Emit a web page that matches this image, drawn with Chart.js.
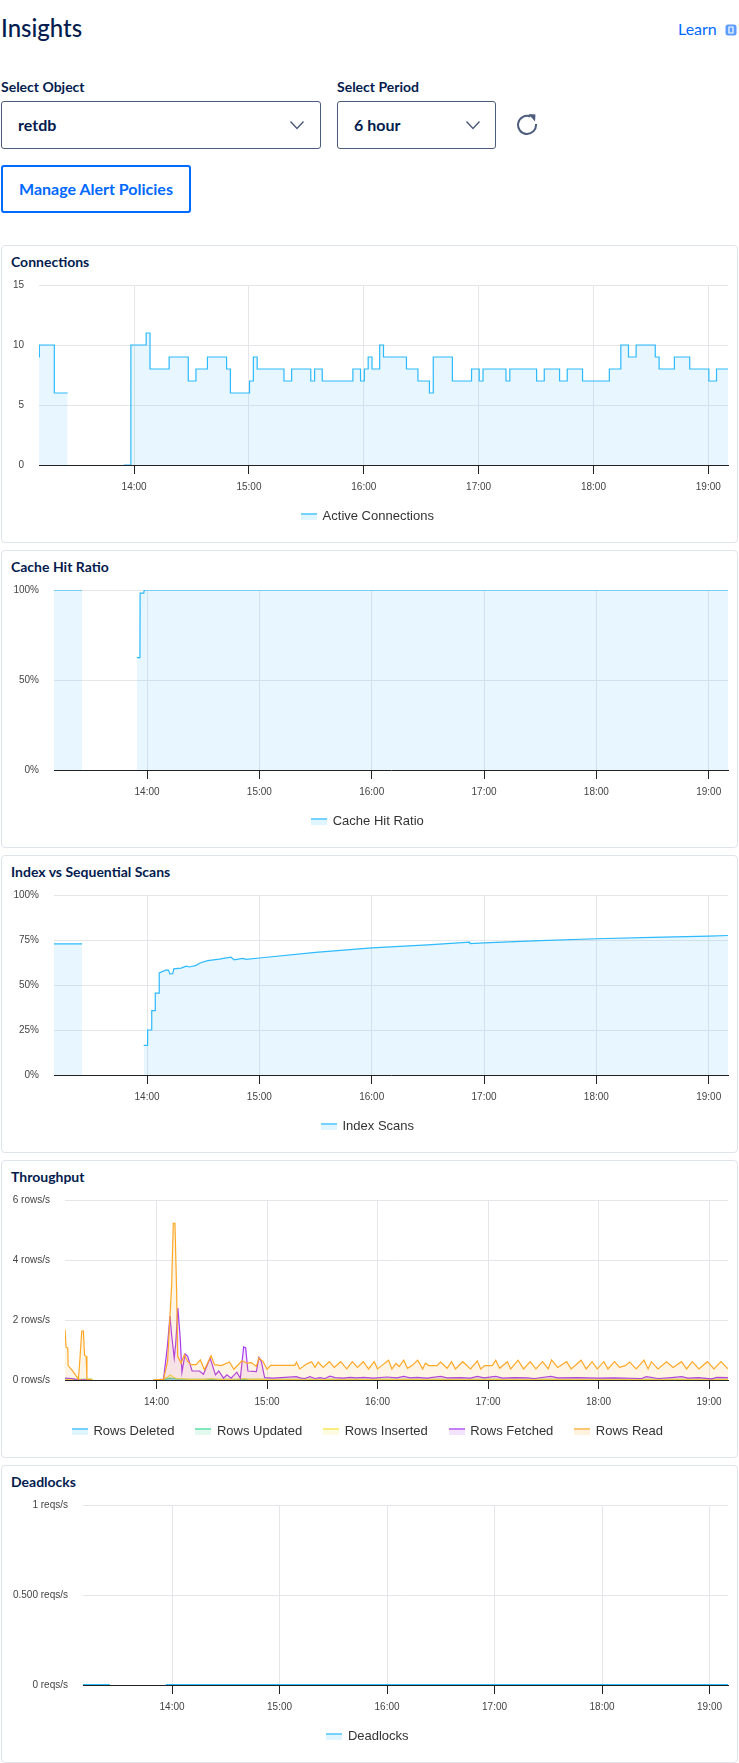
<!DOCTYPE html>
<html>
<head>
<meta charset="utf-8">
<title>Insights</title>
<script src="https://cdn.jsdelivr.net/npm/chart.js@4"></script>
<style>
  html, body { margin: 0; padding: 0; width: 739px; height: 1763px; overflow: hidden; background: #fff; }
  body { position: relative; font-family: Lato, "Open Sans", sans-serif; color: #031b4e; }
  .abs { position: absolute; white-space: nowrap; }
  .pageTitle { left: 1px; top: 12px; font-size: 24px; line-height: 32px; font-weight: 500; }
  .learn { left: 678px; top: 19px; font-size: 16px; line-height: 20px; color: #0069ff; }
  .label { top: 78px; font-size: 14px; line-height: 18px; font-weight: 700; }
  .select { top: 101px; height: 46px; border: 1px solid #4d5b7c; border-radius: 3px; }
  .selectText { top: 114px; font-size: 16px; line-height: 22px; font-weight: 700; }
  .button { left: 1px; top: 165px; width: 186px; height: 44px; border: 2px solid #0069ff; border-radius: 3px; }
  .buttonText { left: 19px; top: 178px; font-size: 16px; line-height: 22px; font-weight: 700; color: #0069ff; }
  .card { position: absolute; left: 1px; width: 735px; height: 296px; border: 1px solid #dfe3ec; border-radius: 4px; }
  .cardTitle { left: 11px; font-size: 14px; line-height: 18px; font-weight: 700; }
  canvas { position: absolute; left: 0; }
</style>
</head>
<body>
<div class="abs pageTitle">Insights</div>
<div class="abs learn">Learn</div>
<svg class="abs" style="left:725px;top:24px" width="12" height="12" viewBox="0 0 12 12">
  <rect x="0.5" y="0.5" width="11" height="11" rx="2.5" fill="#5c9dff"/>
  <path d="M4 3h4v6H4z" fill="none" stroke="#fff" stroke-width="1.2"/>
</svg>

<div class="abs label" style="left:1px">Select Object</div>
<div class="abs label" style="left:337px">Select Period</div>
<div class="abs select" style="left:1px;width:318px"></div>
<div class="abs select" style="left:337px;width:157px"></div>
<div class="abs selectText" style="left:18px">retdb</div>
<div class="abs selectText" style="left:354px">6 hour</div>
<svg class="abs" style="left:289px;top:120px" width="16" height="10" viewBox="0 0 16 10">
  <path d="M1.5 1.5L8 8.5l6.5-7" fill="none" stroke="#4d5b7c" stroke-width="1.4"/>
</svg>
<svg class="abs" style="left:465px;top:120px" width="16" height="10" viewBox="0 0 16 10">
  <path d="M1.5 1.5L8 8.5l6.5-7" fill="none" stroke="#4d5b7c" stroke-width="1.4"/>
</svg>
<svg class="abs" style="left:516px;top:113px" width="22" height="22" viewBox="0 0 22 22">
  <path d="M14.5 3.6A9 9 0 1 0 20 11" fill="none" stroke="#4d5b7c" stroke-width="2"/>
  <path d="M12.5 1l7 .5-.5 7z" fill="#4d5b7c"/>
</svg>

<div class="abs button"></div>
<div class="abs buttonText">Manage Alert Policies</div>

<div class="card" style="top:245px"></div>
<div class="card" style="top:550px"></div>
<div class="card" style="top:855px"></div>
<div class="card" style="top:1160px"></div>
<div class="card" style="top:1465px"></div>
<div class="abs cardTitle" style="top:253px">Connections</div>
<div class="abs cardTitle" style="top:558px">Cache Hit Ratio</div>
<div class="abs cardTitle" style="top:863px">Index vs Sequential Scans</div>
<div class="abs cardTitle" style="top:1168px">Throughput</div>
<div class="abs cardTitle" style="top:1473px">Deadlocks</div>

<canvas id="connChart" width="739" height="298" style="top:245px"></canvas>
<canvas id="cacheChart" width="739" height="298" style="top:550px"></canvas>
<canvas id="scanChart" width="739" height="298" style="top:855px"></canvas>
<canvas id="rowsChart" width="739" height="298" style="top:1160px"></canvas>
<canvas id="lockChart" width="739" height="298" style="top:1465px"></canvas>

<script>
// all times are minutes since midnight
const timeMin = 790.3;
const timeMax = 1150.3;
const hourTicks = [840, 900, 960, 1020, 1080, 1140];
const hourLabels = ["14:00", "15:00", "16:00", "17:00", "18:00", "19:00"];

const connTicks = [0, 5, 10, 15];
const connTickLabels = ["0", "5", "10", "15"];
const connTimes = [790.3, 790.5, 798.3, 805.3, 805.4, 834.6, 838.3, 846.3, 848.3, 858.3, 868.3, 872.3, 878.3, 888.3, 890.3, 900.3, 902.3, 904.3, 918.3, 922.3, 932.3, 934.3, 938.3, 954.3, 958.3, 960.3, 962.3, 964.3, 968.3, 970.3, 982.3, 988.3, 994.3, 996.3, 1006.3, 1016.3, 1020.3, 1022.3, 1034.3, 1036.3, 1050.3, 1054.3, 1062.3, 1066.3, 1074.3, 1088.3, 1094.3, 1098.3, 1102.3, 1112.3, 1114.3, 1122.3, 1130.3, 1140.3, 1144.3, 1150.3];
const connValues = [9, 10, 6, 6, null, 0, 10, 11, 8, 9, 7, 8, 9, 8, 6, 7, 9, 8, 7, 8, 7, 8, 7, 8, 7, 8, 9, 8, 10, 9, 8, 7, 6, 9, 7, 8, 7, 8, 7, 8, 7, 8, 7, 8, 7, 8, 10, 9, 10, 9, 8, 9, 8, 7, 8, 8];

const cacheTicks = [0, 50, 100];
const cacheTickLabels = ["0%", "50%", "100%"];
const cacheTimes = [790.3, 805.3, 805.4, 834.6, 836.2, 836.3, 838.2, 838.3, 838.8, 1150.3];
const cacheValues = [100, 100, null, 62.4, 62.4, 98.3, 98.3, 99.2, 100, 100];

const scanTicks = [0, 25, 50, 75, 100];
const scanTickLabels = ["0%", "25%", "50%", "75%", "100%"];
const scanTimes = [790.3, 805.3, 805.4, 838.2, 840.2, 840.3, 842.4, 842.5, 844.3, 844.4, 846.4, 846.5, 850.3, 851.5, 852.2, 853.7, 854.3, 858.2, 860.9, 862.7, 866.2, 868.3, 872.4, 878.6, 884.8, 886.5, 891, 893, 900, 930, 960, 990, 1012.3, 1012.5, 1020, 1050, 1080, 1110, 1140, 1150.3];
const scanValues = [72.8, 72.8, null, 16.5, 16.5, 25, 25, 35.8, 35.8, 45.5, 45.5, 56.7, 58.4, 58.2, 56.2, 56.3, 59, 59.4, 60.5, 60, 60.9, 62.2, 63.5, 64.4, 65.5, 64, 64.8, 64.2, 65, 68.1, 70.6, 72.3, 73.8, 73, 73.4, 74.7, 75.7, 76.5, 77.2, 77.5];

const rowsTicks = [0, 2, 4, 6];
const rowsTickLabels = ["0 rows/s", "2 rows/s", "4 rows/s", "6 rows/s"];
const deletedTimes = [790.3, 805.3, 805.4, 838.5, 1150.3];
const deletedValues = [0, 0, null, 0, 0];
const updatedTimes = [790.3, 805.3, 805.4, 838.5, 843, 847, 849, 852, 860, 1150.3];
const updatedValues = [0.02, 0.02, null, 0, 0, 0.06, 0.05, 0.03, 0.02, 0.02];
const insertedTimes = [790.3, 805.3, 805.4, 838.5, 843, 846, 847.5, 849, 851, 855, 858, 862, 866, 870, 873, 880, 884, 888, 890, 896, 900, 1150.3];
const insertedValues = [0.02, 0.02, null, 0, 0.01, 0.1, 0.17, 0.1, 0.05, 0.04, 0.02, 0.02, 0.02, 0.05, 0.02, 0.02, 0.03, 0.05, 0.02, 0.03, 0.02, 0.02];
const fetchedTimes = [790.3, 794, 797.6, 804.5, 805.4, 838.5, 843.8, 846, 847.3, 848.2, 849.6, 850.4, 851.6, 852.9, 853.8, 855.5, 856.9, 859.3, 863.3, 865.5, 869.1, 872, 873.8, 876.4, 878.2, 880.5, 883.6, 885.5, 887.3, 888.4, 889.6, 894.2, 895.6, 896.9, 898.7, 903.3, 916, 917.8, 920.5, 923.3, 926, 928.7, 931.4, 934.2, 936.9, 941.4, 945.1, 948.7, 952.3, 957.8, 965.1, 970.5, 974.2, 977.8, 981.4, 986.9, 994.2, 997.8, 1005.1, 1010.5, 1014.2, 1017.8, 1024.2, 1027.8, 1034.2, 1041.4, 1045.1, 1054.2, 1057.8, 1068.7, 1079.6, 1088.7, 1103.3, 1106, 1112.3, 1119.6, 1125.1, 1128.7, 1134.2, 1141.4, 1144.2, 1150.3];
const fetchedValues = [0.06, 0.05, 0, 0.01, null, 0, 0.03, 1.18, 2.13, 1.5, 0.73, 1.2, 2.4, 1.35, 0.26, 0.87, 0.79, 0.3, 0.3, 0.19, 0.73, 0.17, 0.3, 0.06, 0.17, 0.06, 0.26, 0.06, 1.1, 1.07, 0.3, 0.28, 0.75, 0.62, 0.08, 0.06, 0.11, 0.07, 0.05, 0.11, 0.05, 0.08, 0.05, 0.13, 0.08, 0.06, 0.09, 0.07, 0.09, 0.06, 0.1, 0.07, 0.12, 0.07, 0.09, 0.06, 0.12, 0.07, 0.08, 0.06, 0.12, 0.07, 0.12, 0.06, 0.08, 0.07, 0.05, 0.12, 0.07, 0.08, 0.06, 0.07, 0.05, 0.11, 0.05, 0.08, 0.11, 0.06, 0.08, 0.04, 0.09, 0.08];
const readTimes = [790.3, 790.9, 791.8, 792, 794, 797.6, 798.5, 799.4, 800.3, 800.9, 801.8, 802.2, 804.5, 805.4, 838.5, 843.8, 846, 848.2, 849.1, 850, 850.9, 851.5, 853.3, 855.1, 856.9, 858.7, 861.5, 863.8, 866, 869.6, 871.5, 875.1, 879.6, 882, 886.4, 889.1, 891.5, 894.2, 895.6, 897.8, 900, 902, 915.1, 916, 917.8, 921.4, 924.2, 926, 927.8, 930.5, 933.8, 936.5, 940, 943.3, 946.3, 949.1, 952.3, 955.1, 958.2, 960, 962.3, 966, 967.8, 970, 971.8, 974.2, 976.3, 978.7, 981.8, 984.5, 986, 987.8, 992.3, 994.2, 997.8, 1000.2, 1002.3, 1006.3, 1010.5, 1014.2, 1016, 1018.2, 1022.3, 1024.2, 1026.3, 1030.5, 1032.3, 1036.3, 1039.3, 1042.9, 1046, 1049.6, 1052.7, 1054.5, 1057.8, 1062.7, 1065.1, 1067.8, 1070.5, 1073.3, 1076.5, 1079.3, 1082.9, 1085.1, 1088.7, 1091.4, 1094.5, 1096.9, 1100.5, 1104.7, 1106.9, 1108.7, 1112.3, 1116.9, 1120.5, 1125.1, 1127.8, 1130.9, 1134.5, 1139.1, 1142.7, 1146.5, 1150.3];
const readValues = [1.69, 1.09, 1.07, 0.48, 0.34, 0.03, 0.79, 1.63, 1.63, 0.82, 0.79, 0.03, 0.02, null, 0.01, 0.02, 0.62, 3.15, 5.22, 5.22, 2.98, 0.79, 0.56, 0.84, 0.62, 0.51, 0.51, 0.67, 0.34, 0.81, 0.51, 0.48, 0.6, 0.36, 0.64, 0.56, 0.58, 0.45, 0.73, 0.62, 0.36, 0.49, 0.49, 0.6, 0.37, 0.53, 0.61, 0.42, 0.6, 0.42, 0.61, 0.42, 0.61, 0.37, 0.61, 0.42, 0.61, 0.37, 0.61, 0.37, 0.48, 0.66, 0.37, 0.55, 0.45, 0.66, 0.39, 0.48, 0.66, 0.37, 0.56, 0.48, 0.48, 0.6, 0.39, 0.61, 0.37, 0.61, 0.37, 0.64, 0.37, 0.48, 0.48, 0.66, 0.39, 0.61, 0.37, 0.66, 0.37, 0.61, 0.37, 0.61, 0.37, 0.67, 0.42, 0.61, 0.37, 0.51, 0.66, 0.37, 0.61, 0.37, 0.61, 0.37, 0.61, 0.42, 0.48, 0.6, 0.37, 0.66, 0.37, 0.61, 0.37, 0.61, 0.42, 0.61, 0.37, 0.61, 0.37, 0.61, 0.37, 0.61, 0.37];

const lockTicks = [0, 0.5, 1];
const lockTickLabels = ["0 reqs/s", "0.500 reqs/s", "1 reqs/s"];
const lockTimes = [790.3, 805.3, 805.4, 836.5, 1150.3];
const lockValues = [0, 0, null, 0, 0];

const gridColor = "#e4e6ea";
const axisColor = "#222";
const tickColor = "#444";

function toPoints(times, values) {
  return times.map((t, i) => ({ x: t, y: values[i] }));
}

function series(label, times, values, rgb, extra) {
  return Object.assign({
    label: label,
    data: toPoints(times, values),
    rgb: rgb,
    borderColor: `rgb(${rgb})`,
    backgroundColor: `rgba(${rgb},0.11)`,
    borderWidth: 1.2,
    pointRadius: 0,
    fill: "origin",
    tension: 0,
    spanGaps: false
  }, extra || {});
}

// legend swatch: coloured line on top of a pale block
function swatch(rgb) {
  const c = document.createElement("canvas");
  c.width = 16;
  c.height = 7;
  const ctx = c.getContext("2d");
  ctx.fillStyle = `rgba(${rgb},0.14)`;
  ctx.fillRect(0, 0, 16, 7);
  ctx.fillStyle = `rgba(${rgb},0.6)`;
  ctx.fillRect(0, 0, 16, 2);
  return c;
}

// the legend sits closer to the axis than the box layout allows
const legendShift = {
  id: "legendShift",
  afterLayout(chart) {
    chart.legend.top = 243;
    chart.legend.left += 4;
    chart.legend.right += 4;
  }
};

function makeChart(id, plotLeft, datasets, yTicks, yLabels) {
  new Chart(document.getElementById(id).getContext("2d"), {
    type: "line",
    data: { datasets: datasets },
    plugins: [legendShift],
    options: {
      responsive: false,
      animation: false,
      layout: { padding: { left: 0, right: 11, top: 40, bottom: 5 } },
      plugins: {
        title: { display: false },
        tooltip: { enabled: false },
        legend: {
          position: "bottom",
          labels: {
            font: { family: "'Liberation Sans'", size: 13 },
            color: "#333",
            padding: 22,
            usePointStyle: true,
            pointStyleWidth: 14,
            generateLabels: chart => chart.data.datasets.map((d, i) => ({
              text: d.label,
              datasetIndex: i,
              fontColor: "#333",
              pointStyle: swatch(d.rgb),
              lineWidth: 0
            }))
          }
        }
      },
      scales: {
        x: {
          type: "linear",
          min: timeMin,
          max: timeMax,
          afterBuildTicks: s => { s.ticks = hourTicks.map(v => ({ value: v })); },
          afterFit: s => { s.height = 28; },
          ticks: {
            autoSkip: false,
            maxRotation: 0,
            padding: 7,
            color: tickColor,
            font: { family: "'Liberation Sans'", size: 10 },
            callback: v => hourLabels[hourTicks.indexOf(v)]
          },
          grid: { color: gridColor, tickColor: axisColor, tickLength: 9 },
          border: { color: axisColor, z: 1 }
        },
        y: {
          min: yTicks[0],
          max: yTicks[yTicks.length - 1],
          afterBuildTicks: s => { s.ticks = yTicks.map(v => ({ value: v })); },
          afterFit: s => { s.width = plotLeft; },
          ticks: {
            padding: 15,
            color: tickColor,
            font: { family: "'Liberation Sans'", size: 10 },
            callback: v => yLabels[yTicks.indexOf(v)]
          },
          grid: { color: gridColor, drawTicks: false },
          border: { display: false }
        }
      }
    }
  });
}

const blue = "45,186,255";

makeChart("connChart", 39, [
  series("Active Connections", connTimes, connValues, blue, { stepped: true })
], connTicks, connTickLabels);

makeChart("cacheChart", 54, [
  series("Cache Hit Ratio", cacheTimes, cacheValues, blue)
], cacheTicks, cacheTickLabels);

makeChart("scanChart", 54, [
  series("Index Scans", scanTimes, scanValues, blue)
], scanTicks, scanTickLabels);

makeChart("rowsChart", 65, [
  series("Rows Deleted", deletedTimes, deletedValues, blue, { order: 5 }),
  series("Rows Updated", updatedTimes, updatedValues, "61,220,151", { order: 4 }),
  series("Rows Inserted", insertedTimes, insertedValues, "245,226,60", { order: 3 }),
  series("Rows Fetched", fetchedTimes, fetchedValues, "169,59,240", { order: 2 }),
  series("Rows Read", readTimes, readValues, "255,168,38", { order: 1 })
], rowsTicks, rowsTickLabels);

makeChart("lockChart", 83, [
  series("Deadlocks", lockTimes, lockValues, blue, { borderWidth: 2 })
], lockTicks, lockTickLabels);
</script>
</body>
</html>
